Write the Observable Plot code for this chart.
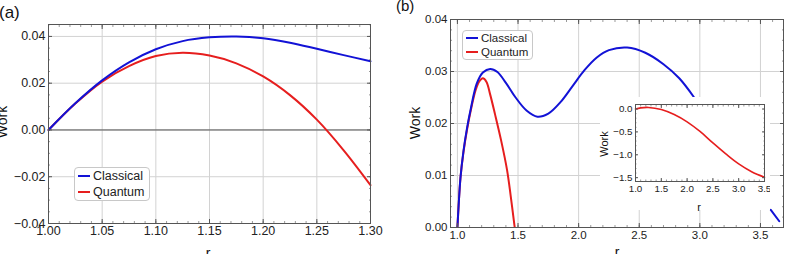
<!DOCTYPE html>
<html>
<head>
<meta charset="utf-8">
<script src="https://cdn.jsdelivr.net/npm/d3@7"></script>
<script src="https://cdn.jsdelivr.net/npm/@observablehq/plot@0.6"></script>
<style>
  html, body { margin: 0; padding: 0; background: #fff; }
  #wrap { position: relative; width: 791px; height: 254px; overflow: hidden; background: #fff;
          font-family: "Liberation Sans", Arial, Helvetica, sans-serif; }
  .legend { position: absolute; background: #fff; border: 1px solid #c8c8c8; border-radius: 4px;
            box-sizing: border-box; color: #222; }
  .legend .row { display: flex; align-items: center; white-space: nowrap; }
  .legend .sw { display: inline-block; height: 2px; }
</style>
</head>
<body>
<div id="wrap"></div>
<script>
// ---------- data ----------
// Panel (a)
const rA        = [1.00, 1.025, 1.05, 1.075, 1.10, 1.125, 1.15, 1.175, 1.20, 1.225, 1.25, 1.275, 1.30];
const classicalA = [0, 0.0114, 0.0212, 0.0289, 0.0345, 0.0380, 0.0396, 0.0400, 0.0392, 0.0373, 0.0347, 0.0320, 0.0294];
const quantumA   = [0, 0.0113, 0.0207, 0.0273, 0.0316, 0.0330, 0.0318, 0.0285, 0.0229, 0.0149, 0.0044, -0.0087, -0.0236];
const xTicksA = [1.00, 1.05, 1.10, 1.15, 1.20, 1.25, 1.30];
const yTicksA = [-0.04, -0.02, 0.00, 0.02, 0.04];

// Panel (b)
const rBc        = [1.0, 1.01, 1.025, 1.05, 1.08, 1.11, 1.16, 1.21, 1.27, 1.33, 1.40, 1.48, 1.57, 1.66, 1.75, 1.85, 1.95, 2.05, 2.15, 2.25, 2.40, 2.55, 2.70, 2.83, 2.95];
const classicalB = [0, 0.0042, 0.0095, 0.0147, 0.0192, 0.0228, 0.0277, 0.0298, 0.0305, 0.0299, 0.0278, 0.0250, 0.0225, 0.0213, 0.0219, 0.0241, 0.0272, 0.0303, 0.0327, 0.0341, 0.0346, 0.0336, 0.0314, 0.0287, 0.0251];
const rBc2        = [3.585, 3.655];
const classicalB2 = [0.0034, 0.0012];
const rBq        = [1.0, 1.01, 1.025, 1.05, 1.08, 1.11, 1.15, 1.18, 1.21, 1.24, 1.27, 1.31, 1.36, 1.41, 1.44, 1.47, 1.48];
const quantumB   = [0, 0.0042, 0.0095, 0.0145, 0.0189, 0.0225, 0.0264, 0.0281, 0.0287, 0.0280, 0.0256, 0.0218, 0.0168, 0.0110, 0.0060, 0.0005, -0.0012];
const xTicksB = [1.0, 1.5, 2.0, 2.5, 3.0, 3.5];
const yTicksB = [0.00, 0.01, 0.02, 0.03, 0.04];

// Inset of (b): quantum work on a large scale
const rIn = [1.0, 1.1, 1.25, 1.5, 1.75, 2.0, 2.25, 2.5, 2.75, 3.0, 3.25, 3.5];
const wIn = [0, 0.025, 0.035, -0.01, -0.12, -0.28, -0.49, -0.74, -0.98, -1.20, -1.37, -1.49];
const xTicksIn = [1.0, 1.5, 2.0, 2.5, 3.0, 3.5];
const yTicksIn = [0.0, -0.5, -1.0, -1.5];

// Minor frame ticks
const xMinorA = d3.range(1.00, 1.3001, 0.01);
const yMinorA = d3.range(-0.04, 0.0451, 0.005);
const xMinorB = d3.range(1.0, 3.69, 0.1);
const yMinorB = d3.range(0, 0.0401, 0.002);
const xMinorIn = d3.range(1.0, 3.501, 0.1);
const yMinorIn = d3.range(-1.5, 0.05, 0.1);

// Series styling / legend
const seriesNames  = ["Classical", "Quantum"];
const seriesColors = ["#1212d6", "#e61e1e"];
const panelLabels = ["(a)", "(b)"];
const axisLabelX = "r";
const axisLabelY = "Work";

// ---------- helpers ----------
const FONT = '"Liberation Sans", Arial, Helvetica, sans-serif';
const GRID = "#d2d2d2";
const FRAME = "#555";
const zip = (xs, ys) => xs.map((x, i) => ({x, y: ys[i]}));

function frameTicks(xt, yt, size, sw = 1) {
  return [
    Plot.axisX(xt, {anchor: "bottom", fill: "none", tickSize: size, dy: -size, stroke: FRAME, strokeWidth: sw}),
    Plot.axisX(xt, {anchor: "top", fill: "none", tickSize: size, dy: size, stroke: FRAME, strokeWidth: sw}),
    Plot.axisY(yt, {anchor: "left", fill: "none", tickSize: size, dx: size, stroke: FRAME, strokeWidth: sw}),
    Plot.axisY(yt, {anchor: "right", fill: "none", tickSize: size, dx: -size, stroke: FRAME, strokeWidth: sw})
  ];
}

const wrap = document.getElementById("wrap");
function place(el, left, top) {
  el.style.position = "absolute";
  el.style.left = left + "px";
  el.style.top = top + "px";
  wrap.appendChild(el);
}

// ---------- panel (a) ----------
const plotA = Plot.plot({
  width: 395, height: 254,
  marginLeft: 48, marginRight: 25, marginTop: 24, marginBottom: 31,
  style: {fontFamily: FONT, fontSize: "12.5px", color: "#222", background: "transparent"},
  x: {domain: [1.0, 1.3]},
  y: {domain: [-0.04, 0.0451]},
  marks: [
    Plot.gridX(xTicksA, {stroke: GRID, strokeOpacity: 1}),
    Plot.gridY(yTicksA, {stroke: GRID, strokeOpacity: 1}),
    Plot.ruleY([0], {stroke: "#555", strokeWidth: 1}),
    Plot.line(zip(rA, quantumA), {x: "x", y: "y", stroke: seriesColors[1], strokeWidth: 2, curve: "catmull-rom"}),
    Plot.line(zip(rA, classicalA), {x: "x", y: "y", stroke: seriesColors[0], strokeWidth: 2, curve: "catmull-rom"}),
    Plot.frame({stroke: FRAME}),
    ...frameTicks(xMinorA, yMinorA, 2, 0.6),
    ...frameTicks(xTicksA, yTicksA, 4),
    Plot.axisX(xTicksA, {tickSize: 0, tickPadding: 3, tickFormat: d3.format(".2f"), label: null}),
    Plot.axisY(yTicksA, {tickSize: 0, tickPadding: 3, tickFormat: d3.format(".2f"), label: null})
  ]
});
place(plotA, 0, 0);

// ---------- panel (b) ----------
const plotB = Plot.plot({
  width: 396, height: 254,
  marginLeft: 55, marginRight: 8, marginTop: 19, marginBottom: 27,
  style: {fontFamily: FONT, fontSize: "11.5px", color: "#222", background: "transparent"},
  x: {domain: [0.943, 3.69]},
  y: {domain: [0, 0.04]},
  marks: [
    Plot.gridX(xTicksB, {stroke: GRID, strokeOpacity: 1}),
    Plot.gridY(yTicksB, {stroke: GRID, strokeOpacity: 1}),
    Plot.line(zip(rBq, quantumB), {x: "x", y: "y", stroke: seriesColors[1], strokeWidth: 2, curve: "catmull-rom", clip: true}),
    Plot.line(zip(rBc, classicalB), {x: "x", y: "y", stroke: seriesColors[0], strokeWidth: 2, curve: "catmull-rom", clip: true}),
    Plot.line(zip(rBc2, classicalB2), {x: "x", y: "y", stroke: seriesColors[0], strokeWidth: 2, clip: true}),
    Plot.frame({stroke: FRAME}),
    ...frameTicks(xMinorB, yMinorB, 2, 0.6),
    ...frameTicks(xTicksB, yTicksB, 4),
    Plot.axisX(xTicksB, {tickSize: 0, tickPadding: 3, tickFormat: d3.format(".1f"), label: null}),
    Plot.axisY(yTicksB, {tickSize: 0, tickPadding: 3, tickFormat: d3.format(".2f"), label: null})
  ]
});
place(plotB, 395, 0);

// ---------- inset ----------
const plotIn = Plot.plot({
  width: 170, height: 113,
  marginLeft: 35, marginRight: 6, marginTop: 7, marginBottom: 29,
  style: {fontFamily: FONT, fontSize: "9.8px", color: "#222", background: "#fff"},
  x: {domain: [1.0, 3.5]},
  y: {domain: [-1.584, 0.099]},
  marks: [
    Plot.line(zip(rIn, wIn), {x: "x", y: "y", stroke: seriesColors[1], strokeWidth: 1.6, curve: "catmull-rom"}),
    Plot.frame({stroke: FRAME}),
    ...frameTicks(xMinorIn, yMinorIn, 1.5, 0.6),
    ...frameTicks(xTicksIn, yTicksIn, 3),
    Plot.axisX(xTicksIn, {tickSize: 0, tickPadding: 4, tickFormat: d3.format(".1f"), label: null}),
    Plot.axisY(yTicksIn, {tickSize: 0, tickPadding: 3, tickFormat: d3.format(".1f"), label: null})
  ]
});
place(plotIn, 600, 97);

// ---------- annotation text ----------
const ov = d3.create("svg").attr("width", 791).attr("height", 254)
  .style("position", "absolute").style("left", "0px").style("top", "0px")
  .style("pointer-events", "none").style("font-family", FONT).attr("fill", "#111");
ov.append("text").attr("x", -1).attr("y", 18).attr("font-size", 17).text(panelLabels[0]);
ov.append("text").attr("x", 396).attr("y", 11).attr("font-size", 15).text(panelLabels[1]);
ov.append("text").attr("transform", "translate(7,122) rotate(-90)").attr("text-anchor", "middle").attr("font-size", 14).text(axisLabelY);
ov.append("text").attr("transform", "translate(420,123) rotate(-90)").attr("text-anchor", "middle").attr("font-size", 14).text(axisLabelY);
ov.append("text").attr("transform", "translate(608,144) rotate(-90)").attr("text-anchor", "middle").attr("font-size", 11).text(axisLabelY);
ov.append("text").attr("x", 208).attr("y", 258).attr("text-anchor", "middle").attr("font-size", 14).text(axisLabelX);
ov.append("text").attr("x", 617).attr("y", 257).attr("text-anchor", "middle").attr("font-size", 14).text(axisLabelX);
ov.append("text").attr("x", 699).attr("y", 211).attr("text-anchor", "middle").attr("font-size", 11).text(axisLabelX);
wrap.appendChild(ov.node());

// ---------- legends ----------
function legend(left, top, width, rowH, fontSize, swW, gap) {
  const box = document.createElement("div");
  box.className = "legend";
  box.style.left = left + "px";
  box.style.top = top + "px";
  box.style.width = width + "px";
  box.style.fontSize = fontSize + "px";
  box.style.padding = "0 0 0 3px";
  seriesNames.forEach((name, i) => {
    const row = document.createElement("div");
    row.className = "row";
    row.style.height = rowH + "px";
    const sw = document.createElement("span");
    sw.className = "sw";
    sw.style.width = swW + "px";
    sw.style.background = seriesColors[i];
    sw.style.marginRight = gap + "px";
    const tx = document.createElement("span");
    tx.textContent = name;
    row.appendChild(sw); row.appendChild(tx);
    box.appendChild(row);
  });
  wrap.appendChild(box);
}
legend(74, 167, 76, 16, 12.5, 12, 3);
legend(462, 30, 71, 14, 11.5, 12, 3);
</script>
</body>
</html>
